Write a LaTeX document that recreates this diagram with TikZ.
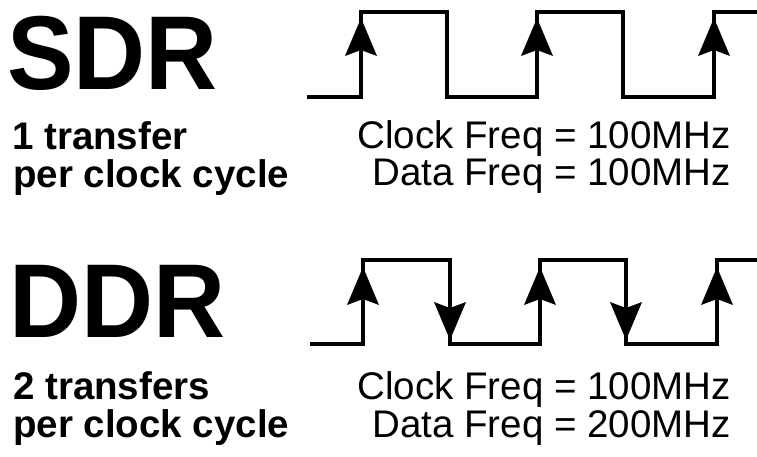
\documentclass[tikz,border=0pt]{standalone}
\usepackage{fontspec}
\setmainfont{Liberation Sans}
\newfontfamily\condfont{Liberation Sans}[FakeStretch=0.95]
\begin{document}
\begin{tikzpicture}[x=1pt,y=-1pt,
  wave/.style={line width=4pt,line join=miter},
  bigtitle/.style={inner sep=0pt,anchor=base west,font=\condfont\bfseries\fontsize{105}{105}\selectfont},
  lefttext/.style={inner sep=0pt,anchor=base west,font=\bfseries\fontsize{38.5}{38.5}\selectfont},
  righttext/.style={inner sep=0pt,anchor=base east,font=\fontsize{38.5}{38.5}\selectfont},
  uparr/.pic={\fill (0,0) -- (16,38) -- (0,32) -- (-16,38) -- cycle;},
  downarr/.pic={\fill (0,0) -- (16,-38) -- (0,-32) -- (-16,-38) -- cycle;}]
\useasboundingbox (0,0) rectangle (757,456);
% SDR
\node[bigtitle] (sdr) at (7,89) {SDR};
\node[lefttext] (sdr1) at (12,149) {1 transfer};
\node[lefttext] (sdr2) at (13,187) {per clock cycle};
\node[righttext] (sdrc) at (731,148) {Clock Freq = 100MHz};
\node[righttext] (sdrd) at (731,185) {Data Freq = 100MHz};
\draw[wave] (307,97) -- (361,97) -- (361,12) -- (447,12) -- (447,97) -- (537,97)
  -- (537,12) -- (623,12) -- (623,97) -- (714,97) -- (714,12) -- (758,12);
\pic at (361,18) {uparr};
\pic at (537,18) {uparr};
\pic at (714,18) {uparr};
% DDR
\node[bigtitle] (ddr) at (9,337) {DDR};
\node[lefttext] (ddr1) at (13,399) {2 transfers};
\node[lefttext] (ddr2) at (13,437) {per clock cycle};
\node[righttext] (ddrc) at (731,399) {Clock Freq = 100MHz};
\node[righttext] (ddrd) at (731,437) {Data Freq = 200MHz};
\draw[wave] (310,344) -- (363,344) -- (363,260) -- (450,260) -- (450,344) -- (540,344)
  -- (540,260) -- (626,260) -- (626,344) -- (717,344) -- (717,260) -- (758,260);
\pic at (363,267) {uparr};
\pic at (540,267) {uparr};
\pic at (717,267) {uparr};
\pic at (450,340) {downarr};
\pic at (626,340) {downarr};
\end{tikzpicture}
\end{document}
